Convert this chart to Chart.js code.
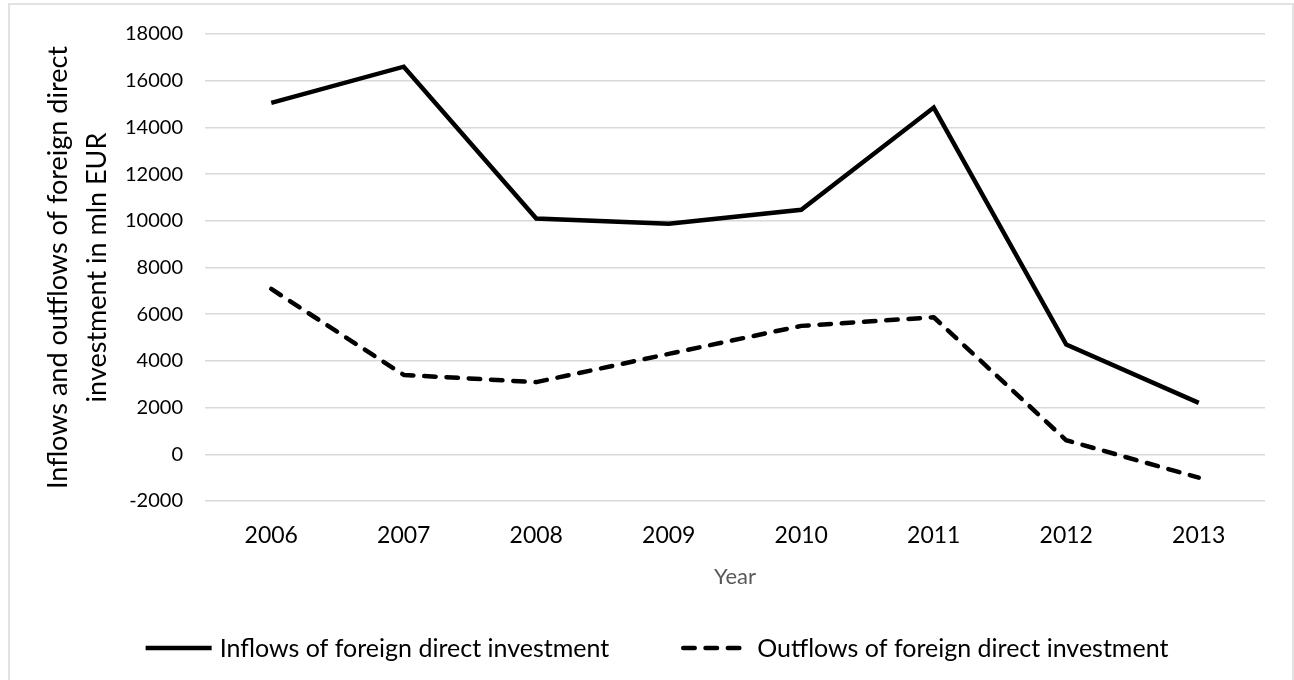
<!DOCTYPE html>
<html>
<head>
<meta charset="utf-8">
<script src="https://cdn.jsdelivr.net/npm/chart.js@4/dist/chart.umd.min.js"></script>
<style>
  html, body { margin: 0; padding: 0; background: #fff; }
  #wrap { width: 1294px; height: 680px; position: relative; }
</style>
</head>
<body>
<div id="wrap"><canvas id="myChart"></canvas></div>
<script>
// values (mln EUR)
const years = ['2006', '2007', '2008', '2009', '2010', '2011', '2012', '2013'];
const inflows = [15050, 16600, 10100, 9870, 10470, 14850, 4700, 2200];
const outflows = [7080, 3400, 3090, 4300, 5500, 5870, 600, -1000];
const yMin = -2000;
const yMax = 18000;
const yStep = 2000;

const yTitle = ['Inflows and outflows of foreign direct', 'investment in mln EUR'];
const xTitle = 'Year';
const inflowLabel = 'Inflows of foreign direct investment';
const outflowLabel = 'Outflows of foreign direct investment';

Chart.defaults.font.family = 'Lato';

// light grey frame round the whole chart, like the Excel chart area
const frame = {
    id: 'frame',
    beforeDraw(chart) {
        const ctx = chart.ctx;
        ctx.save();
        ctx.strokeStyle = '#d9d9d9';
        ctx.lineWidth = 1.5;
        ctx.strokeRect(9, 4, 1284, 690);
        ctx.restore();
    }
};

// legend with line samples, spaced like the reference
const lineLegend = {
    id: 'lineLegend',
    afterDraw(chart) {
        const ctx = chart.ctx;
        const y = 648;
        const sampleW = 70;
        const gapText = 6;
        const gapItem = 72;
        ctx.save();
        ctx.font = '25px Lato';
        const sets = chart.data.datasets;
        const widths = sets.map(ds => sampleW + gapText + ctx.measureText(ds.label).width);
        const total = widths.reduce((a, b) => a + b, 0) + gapItem * (sets.length - 1);
        let x = 656 - total / 2;
        sets.forEach((ds, i) => {
            ctx.beginPath();
            ctx.setLineDash(ds.borderDash || []);
            ctx.lineCap = ds.borderCapStyle || 'butt';
            ctx.lineWidth = ds.borderWidth;
            ctx.strokeStyle = ds.borderColor;
            ctx.moveTo(x + 2, y);
            ctx.lineTo(x + sampleW - 2, y);
            ctx.stroke();
            ctx.setLineDash([]);
            ctx.fillStyle = '#000';
            ctx.textBaseline = 'middle';
            ctx.fillText(ds.label, x + sampleW + gapText, y + 1);
            x += widths[i] + gapItem;
        });
        ctx.restore();
    }
};

const ctx = document.getElementById('myChart').getContext('2d');
const chart = new Chart(ctx, {
    type: 'line',
    data: {
        labels: years,
        datasets: [{
            label: inflowLabel,
            data: inflows,
            borderColor: '#000',
            borderWidth: 4.5,
            borderCapStyle: 'butt',
            borderJoinStyle: 'miter',
            pointRadius: 0,
            tension: 0
        }, {
            label: outflowLabel,
            data: outflows,
            borderColor: '#000',
            borderWidth: 4.5,
            borderDash: [11.5, 10.8],
            borderCapStyle: 'round',
            borderJoinStyle: 'round',
            pointRadius: 0,
            tension: 0
        }]
    },
    options: {
        responsive: true,
        maintainAspectRatio: false,
        animation: false,
        layout: {
            padding: {top: 33, right: 29, bottom: 79, left: 0}
        },
        plugins: {
            legend: {display: false},
            tooltip: {enabled: false}
        },
        scales: {
            x: {
                offset: true,
                grid: {display: false, drawTicks: false},
                border: {display: false},
                ticks: {
                    color: '#000',
                    font: {size: 23},
                    padding: 21,
                    maxRotation: 0
                },
                title: {
                    display: true,
                    text: xTitle,
                    color: '#595959',
                    font: {size: 22},
                    padding: {top: 0, bottom: 11}
                },
                afterFit(scale) {
                    scale.height = 100;
                }
            },
            y: {
                min: yMin,
                max: yMax,
                grid: {color: '#d9d9d9', lineWidth: 1.5, drawTicks: false},
                border: {display: false},
                ticks: {
                    stepSize: yStep,
                    color: '#000',
                    font: {size: 20},
                    padding: 22,
                    callback: v => String(v)
                },
                title: {
                    display: true,
                    text: yTitle,
                    color: '#000',
                    font: {size: 27, lineHeight: '39px'},
                    padding: {top: 39, bottom: 0}
                },
                afterFit(scale) {
                    scale.width = 205;
                }
            }
        }
    },
    plugins: [frame, lineLegend]
});
</script>
</body>
</html>
